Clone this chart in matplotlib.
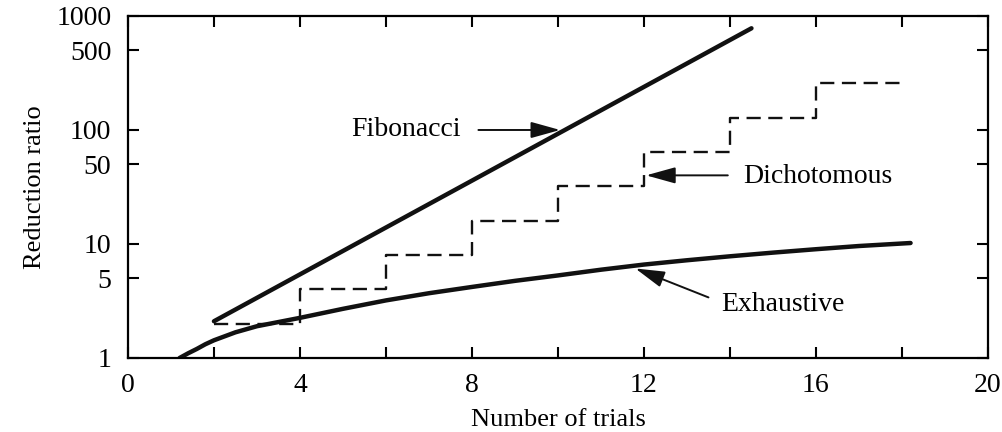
import matplotlib
matplotlib.use('Agg')
import matplotlib.pyplot as plt
from matplotlib import rcParams
from matplotlib.ticker import FixedLocator, NullLocator

rcParams['font.family'] = 'serif'
rcParams['font.serif'] = ['Liberation Serif', 'DejaVu Serif']
rcParams['font.size'] = 20
rcParams['axes.linewidth'] = 1.6

# values
fib_x = [2, 14.5]
fib_y = [2.1, 780]

dich_x = [2, 4, 6, 8, 10, 12, 14, 16, 18]
dich_y = [2, 4, 8, 16, 32, 64, 128, 256, 256]

exh_x = [1.2, 1.4, 1.6, 1.8, 2, 2.5, 3, 4, 5, 6, 7, 8, 9, 10, 11, 12, 13, 14,
         15, 16, 17, 18.2]
exh_y = [1.0, 1.1, 1.2, 1.32, 1.43, 1.68, 1.9, 2.25, 2.7, 3.2, 3.7, 4.2, 4.75,
         5.3, 5.95, 6.6, 7.2, 7.8, 8.4, 9.0, 9.6, 10.2]

x_ticks = [0, 2, 4, 6, 8, 10, 12, 14, 16, 18, 20]
x_labels = ['0', '', '4', '', '8', '', '12', '', '16', '', '20']
y_ticks = [1, 5, 10, 50, 100, 500, 1000]
y_labels = ['1', '5', '10', '50', '100', '500', '1000']

fig = plt.figure(figsize=(10.02, 4.32), dpi=100)
ax = fig.add_axes([0.1277, 0.1713, 0.8583, 0.7917])

ax.plot(fib_x, fib_y, color='#111111', lw=3.2, solid_capstyle='round')
ax.step(dich_x, dich_y, where='post', color='#111111', lw=1.7,
        dashes=(6, 3.2))
ax.plot(exh_x, exh_y, color='#111111', lw=3.2, solid_capstyle='round')

ax.set_yscale('log')
ax.set_xlim(0, 20)
ax.set_ylim(1, 1000)

ax.xaxis.set_major_locator(FixedLocator(x_ticks))
ax.set_xticklabels(x_labels)
ax.yaxis.set_major_locator(FixedLocator(y_ticks))
ax.yaxis.set_minor_locator(NullLocator())
ax.set_yticklabels(y_labels)

ax.tick_params(direction='in', length=8, width=1.5, top=True, right=True)
ax.tick_params(axis='x', pad=11)
ax.tick_params(axis='y', pad=12)

ax.set_xlabel('Number of trials', fontsize=19, labelpad=8)
ax.set_ylabel('Reduction ratio', fontsize=19, labelpad=7)

arrow = dict(arrowstyle='-|>,head_length=0.9,head_width=0.25',
             color='#111111', lw=1.4, shrinkA=0, shrinkB=0)
ax.text(7.75, 100, 'Fibonacci', ha='right', va='center')
ax.annotate('', xy=(10.05, 100), xytext=(8.15, 100), arrowprops=arrow)
ax.text(14.3, 39, 'Dichotomous', ha='left', va='center')
ax.annotate('', xy=(12.05, 40), xytext=(13.95, 40), arrowprops=arrow)
ax.text(13.8, 2.95, 'Exhaustive', ha='left', va='center')
ax.annotate('', xy=(11.8, 6.1), xytext=(13.5, 3.4), arrowprops=arrow)

fig.savefig('out.png', dpi=100)
